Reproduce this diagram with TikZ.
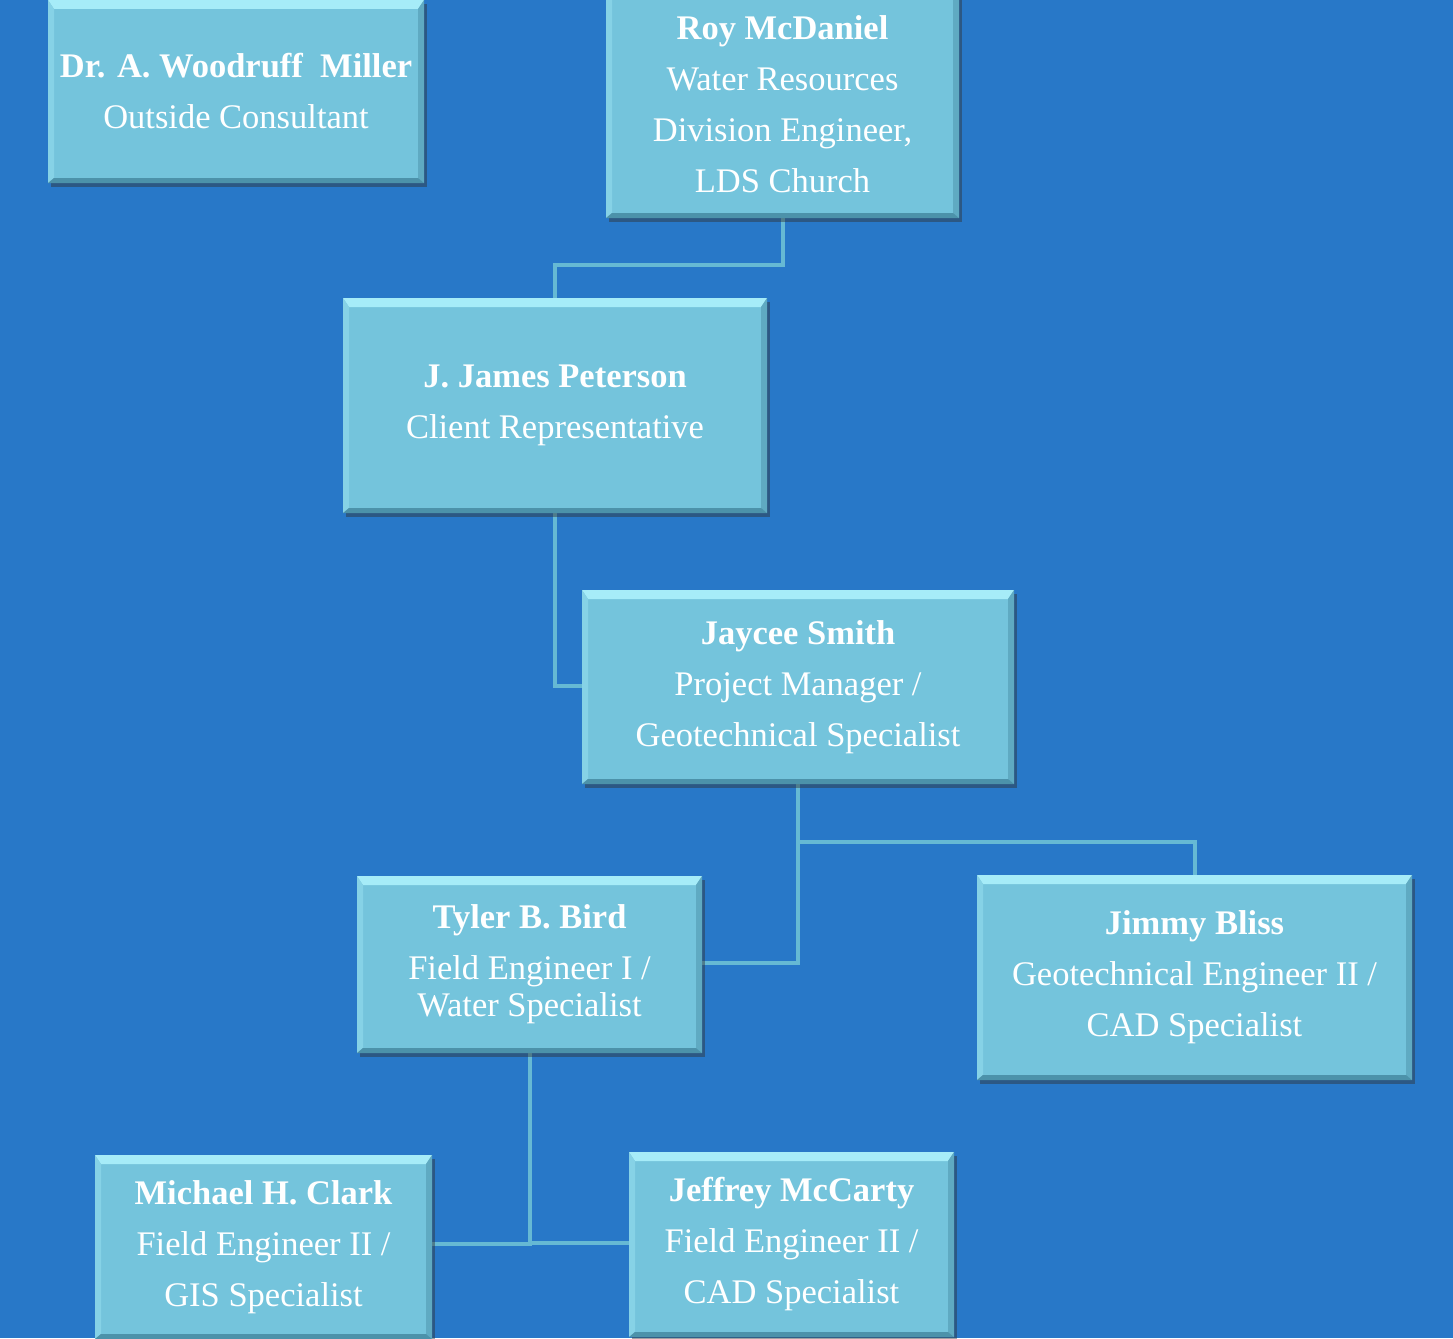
\documentclass[tikz,border=0pt]{standalone}
\usepackage{fontspec}
\setmainfont{Liberation Serif}
\usetikzlibrary{shadows}
\definecolor{bg}{HTML}{2878C8}
\definecolor{boxfill}{HTML}{74C4DC}
\definecolor{bevtop}{HTML}{A6ECF8}
\definecolor{bevleft}{HTML}{86D2E6}
\definecolor{bevright}{HTML}{5FAAC2}
\definecolor{bevbot}{HTML}{4C92AA}
\definecolor{conncol}{HTML}{66B9D4}
\tikzset{
  orgbox/.style={rectangle, fill=boxfill, text=white, align=center, inner sep=0pt,
    font=\fontsize{34.5}{51}\selectfont,
    drop shadow={shadow xshift=3pt, shadow yshift=-4pt, opacity=0.45, fill=black!80},
    path picture={
      \coordinate (nw) at (path picture bounding box.north west);
      \coordinate (ne) at (path picture bounding box.north east);
      \coordinate (sw) at (path picture bounding box.south west);
      \coordinate (se) at (path picture bounding box.south east);
      \fill[bevtop] (nw) -- (ne) -- ([shift={(-6pt,-9pt)}]ne) -- ([shift={(6pt,-9pt)}]nw) -- cycle;
      \fill[bevleft] (nw) -- ([shift={(6pt,-9pt)}]nw) -- ([shift={(6pt,5pt)}]sw) -- (sw) -- cycle;
      \fill[bevright] (ne) -- ([shift={(-6pt,-9pt)}]ne) -- ([shift={(-6pt,5pt)}]se) -- (se) -- cycle;
      \fill[bevbot] (sw) -- (se) -- ([shift={(-6pt,5pt)}]se) -- ([shift={(6pt,5pt)}]sw) -- cycle;
    }},
  conn/.style={draw=conncol, line width=4pt}
}
\begin{document}
\begin{tikzpicture}[x=1pt,y=-1pt]
\fill[bg] (0,0) rectangle (1453,1338);
\useasboundingbox (0,0) rectangle (1453,1338);
\begin{scope}
\clip (0,0) rectangle (1453,1338);
% connectors
\draw[conn] (782.5,218) -- (782.5,265) -- (555,265) -- (555,298);
\draw[conn] (555,513) -- (555,686) -- (582,686);
\draw[conn] (798,784) -- (798,842) -- (1194.5,842) -- (1194.5,875);
\draw[conn] (798,842) -- (798,963) -- (702,963);
\draw[conn] (529.5,1053) -- (529.5,1244) -- (432,1244);
\draw[conn] (529.5,1243) -- (629,1243);
% boxes
\node[orgbox, minimum width=376pt, minimum height=183pt] (miller) at (236,91.5)
  {\textbf{Dr. A. Woodruff\ \ Miller}\\Outside Consultant};
\node[orgbox, minimum width=353pt, minimum height=227pt] (mcdaniel) at (782.5,104.5)
  {\textbf{Roy McDaniel}\\Water Resources\\Division Engineer,\\LDS Church};
\node[orgbox, minimum width=424pt, minimum height=215pt] (peterson) at (555,405.5)
  {\textbf{J. James Peterson}\\Client Representative};
\node[orgbox, minimum width=432pt, minimum height=194pt] (smith) at (798,687)
  {\textbf{Jaycee Smith}\\Project Manager /\\Geotechnical Specialist};
\node[orgbox, minimum width=345pt, minimum height=177pt] (bird) at (529.5,964.5)
  {\textbf{Tyler B. Bird}\\Field Engineer I /\\[-14pt]Water Specialist};
\node[orgbox, minimum width=435pt, minimum height=205pt] (bliss) at (1194.5,977.5)
  {\textbf{Jimmy Bliss}\\Geotechnical Engineer II /\\CAD Specialist};
\node[orgbox, minimum width=337pt, minimum height=184pt] (clark) at (263.5,1247)
  {\textbf{Michael H. Clark}\\Field Engineer II /\\GIS Specialist};
\node[orgbox, minimum width=325pt, minimum height=185pt] (mccarty) at (791.5,1244.5)
  {\textbf{Jeffrey McCarty}\\Field Engineer II /\\CAD Specialist};
\end{scope}
\end{tikzpicture}
\end{document}
